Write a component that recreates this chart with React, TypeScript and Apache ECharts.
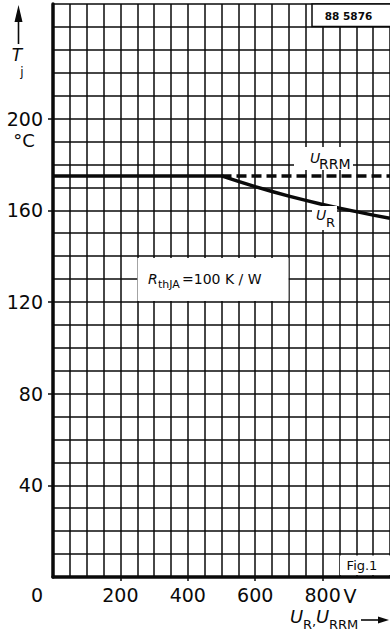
import React, { useEffect, useRef } from "react";
import * as echarts from "echarts";

// Curve data
const voltageUR = [0, 500, 525, 550, 600, 650, 700, 750, 800, 850, 900, 950, 1000];
const tjUR = [175, 175, 173.8, 172.6, 170.3, 168.2, 166.2, 164.3, 162.5, 160.9, 159.4, 157.9, 156.5];
const voltageURRM = [500, 1000];
const tjURRM = [175, 175];

// Tick labels
const xTickValues = [0, 200, 400, 600, 800];
const yTickValues = [40, 80, 120, 160, 200];

const FONT = '"DejaVu Sans", "Liberation Sans", sans-serif';
const INK = "#0a0a0a";

function txt(text: string, x: number, y: number, size: number, opts: any = {}) {
  return {
    type: "text",
    z: 20,
    silent: true,
    style: {
      text,
      x,
      y,
      fill: INK,
      fontSize: size,
      fontFamily: FONT,
      fontStyle: opts.italic ? "italic" : "normal",
      fontWeight: opts.bold ? "bold" : "normal",
      align: opts.align || "left",
      verticalAlign: "middle",
    },
  };
}

function box(x: number, y: number, w: number, h: number, stroke = false) {
  return {
    type: "rect",
    z: 15,
    silent: true,
    shape: { x, y, width: w, height: h },
    style: { fill: "#fff", stroke: stroke ? INK : "none", lineWidth: 1.5 },
  };
}

export default function App() {
  const ref = useRef<HTMLDivElement>(null);

  useEffect(() => {
    document.body.style.margin = "0";
    const chart = echarts.init(ref.current!, null, { renderer: "svg" });
    const gridLine = { show: true, lineStyle: { color: INK, width: 1.5 } };
    chart.setOption({
      animation: false,
      backgroundColor: "#fff",
      grid: { left: 53, top: 4, right: -1, bottom: 65, containLabel: false },
      xAxis: [
        {
          type: "value",
          position: "bottom",
          min: 0,
          max: 1000,
          interval: 50,
          axisLine: { show: true, lineStyle: { color: INK, width: 3.5 } },
          axisTick: { show: false },
          axisLabel: { show: false },
          splitLine: gridLine,
        },
        {
          type: "value",
          position: "bottom",
          min: 0,
          max: 1000,
          interval: 200,
          axisLine: { show: false },
          axisTick: { show: true, customValues: xTickValues.filter((v) => v > 0), length: 4, lineStyle: { color: INK, width: 1.5 } },
          axisLabel: {
            customValues: xTickValues,
            color: INK,
            fontSize: 19,
            fontFamily: FONT,
            margin: 8,
            formatter: (v: number) => (v === 0 ? "{o|0}" : String(v)),
            rich: { o: { fontSize: 19, fontFamily: FONT, color: INK, padding: [0, 32, 0, 0] } },
          },
          splitLine: { show: false },
        },
      ],
      yAxis: [
        {
          type: "value",
          position: "left",
          min: 0,
          max: 250,
          interval: 10,
          axisLine: { show: true, lineStyle: { color: INK, width: 3.5 } },
          axisTick: { show: false },
          axisLabel: { show: false },
          splitLine: gridLine,
        },
        {
          type: "value",
          position: "left",
          min: 0,
          max: 250,
          interval: 40,
          axisLine: { show: false },
          axisTick: { show: true, customValues: yTickValues, length: 5, lineStyle: { color: INK, width: 1.5 } },
          axisLabel: {
            customValues: yTickValues,
            color: INK,
            fontSize: 19,
            fontFamily: FONT,
            margin: 10,
          },
          splitLine: { show: false },
        },
      ],
      series: [
        {
          name: "U_R",
          type: "line",
          xAxisIndex: 0,
          yAxisIndex: 0,
          data: voltageUR.map((v, i) => [v, tjUR[i]]),
          showSymbol: false,
          symbol: "none",
          lineStyle: { color: INK, width: 3.5, join: "round" },
          z: 5,
        },
        {
          name: "U_RRM",
          type: "line",
          xAxisIndex: 0,
          yAxisIndex: 0,
          data: voltageURRM.map((v, i) => [v, tjURRM[i]]),
          showSymbol: false,
          symbol: "none",
          lineStyle: { color: INK, width: 3.5, type: [10, 5] },
          z: 4,
        },
      ],
      graphic: [
        // Y axis title with arrow
        { type: "line", z: 20, shape: { x1: 18.5, y1: 44, x2: 18.5, y2: 18 }, style: { stroke: INK, lineWidth: 1.6 } },
        { type: "polygon", z: 20, shape: { points: [[14.5, 22], [22.5, 22], [18.5, 5]] }, style: { fill: INK } },
        txt("T", 17, 55, 17, { italic: true, align: "center" }),
        txt("j", 22, 72, 12, { align: "center" }),
        txt("°C", 24, 140, 18, { align: "center" }),
        // X axis unit and title
        txt("V", 350, 596, 19, { align: "center" }),
        txt("U", 290, 616, 18, { italic: true }),
        txt("R", 303, 624, 13),
        txt(",", 312, 621, 13),
        txt("U", 316, 616, 18, { italic: true }),
        txt("RRM", 329, 624, 13),
        { type: "line", z: 20, shape: { x1: 361, y1: 620, x2: 380, y2: 620 }, style: { stroke: INK, lineWidth: 1.6 } },
        { type: "polygon", z: 20, shape: { points: [[378, 616.5], [378, 623.5], [389, 620]] }, style: { fill: INK } },
        // Label boxes
        box(312, 4, 80, 22.5, true),
        txt("88 5876", 348.5, 15.5, 10.5, { bold: true, align: "center" }),
        box(294, 147, 59, 23),
        txt("U", 310, 158, 14, { italic: true }),
        txt("RRM", 319, 164, 14),
        box(312, 206, 25, 24),
        txt("U", 316, 215, 14, { italic: true }),
        txt("R", 326, 222, 13),
        box(137.5, 258, 151, 43),
        txt("R", 148, 279, 14, { italic: true }),
        txt("thJA", 158, 284, 11),
        txt("=100 K / W", 182, 279, 14),
        box(340, 555.5, 51, 19.5),
        txt("Fig.1", 362, 565, 13, { align: "center" }),
      ],
    });
    return () => chart.dispose();
  }, []);

  return (
    <div
      ref={ref}
      style={{ position: "fixed", left: 0, top: 0, width: 390, height: 642, background: "#fff" }}
    />
  );
}
